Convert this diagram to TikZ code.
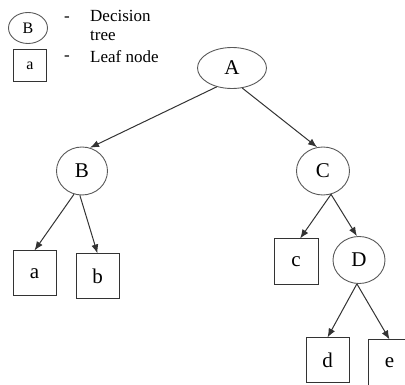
\documentclass[tikz,border=0pt]{standalone}
\usepackage{fontspec}
\setmainfont{Liberation Serif}
\usepackage{tikz}
\usetikzlibrary{shapes,arrows.meta}
\tikzstyle{tree} = [ellipse, draw=black!65, line width=0.9pt, inner sep=0pt, font=\fontsize{21}{23}\selectfont]
\tikzstyle{leaf} = [rectangle, draw=black!80, line width=1pt, inner sep=0pt, font=\fontsize{21}{23}\selectfont]
\tikzstyle{key} = [font=\fontsize{17}{19.5}\selectfont, inner sep=0pt]
\tikzstyle{line} = [draw=black!80, line width=1pt, -{Latex[length=9pt,width=7pt]}]

\begin{document}
\begin{tikzpicture}[x=1pt, y=-1pt]
	\useasboundingbox (0,0) rectangle (405,385);
	% Place nodes
	\node [tree, minimum width=39pt, minimum height=31pt, font=\fontsize{16}{18}\selectfont] (keytree) at (28,28) {B};
	\node [leaf, minimum width=33pt, minimum height=32pt, font=\fontsize{16}{18}\selectfont] (keyleaf) at (30,66) {a};
	\node [key] (dashtree) at (67,19) {-};
	\node [key] (dashleaf) at (67,58) {-};
	\node [key, anchor=north west, align=left] (texttree) at (90,10) {Decision\\tree};
	\node [key, anchor=base west] (textleaf) at (90,63) {Leaf node};
	\node [tree, minimum width=69pt, minimum height=41pt] (A) at (232,68) {A};
	\node [tree, minimum width=51pt, minimum height=48pt] (B) at (82,171) {B};
	\node [tree, minimum width=53pt, minimum height=48pt] (C) at (323,171) {C};
	\node [tree, minimum width=52pt, minimum height=47pt] (D) at (359,260) {D};
	\node [leaf, minimum width=43pt, minimum height=45pt] (a) at (34.5,273.5) {a};
	\node [leaf, minimum width=43pt, minimum height=45pt] (b) at (97.5,276.5) {b};
	\node [leaf, minimum width=44pt, minimum height=46pt] (c) at (296,262) {c};
	\node [leaf, minimum width=43pt, minimum height=44pt] (d) at (327.5,360) {d};
	\node [leaf, minimum width=43pt, minimum height=45pt] (e) at (389.5,362.5) {e};
	% Draw edges
	\path [line] (A.-129) -- (B.71);
	\path [line] (A.-63) -- (C.104);
	\path [line] (B.-109) -- (a.north);
	\path [line] (B.-95) -- (b.north);
	\path [line] (C.-71) -- (c.80);
	\path [line] (C.-71) -- (D.95);
	\path [line] (D.-95) -- (d.north);
	\path [line] (D.-95) -- (e.north);
\end{tikzpicture}
\end{document}
